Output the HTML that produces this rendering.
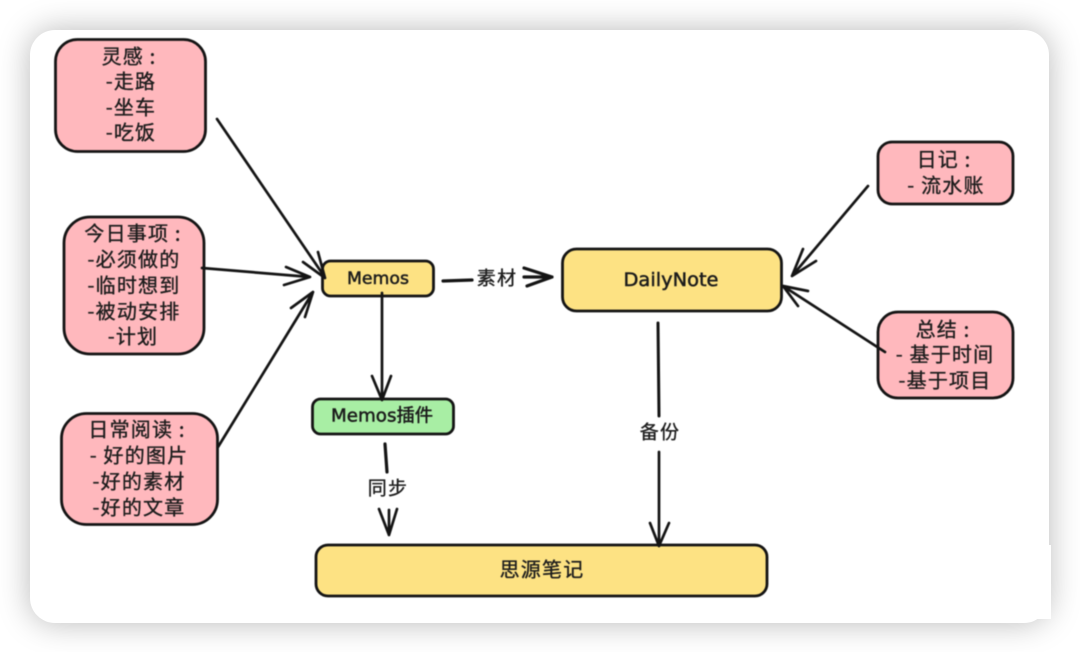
<!DOCTYPE html>
<html lang="zh">
<head>
<meta charset="utf-8">
<style>
html,body{margin:0;padding:0;background:#fff;width:1080px;height:652px;overflow:hidden}
#card{position:absolute;left:30px;top:30px;width:1019px;height:593px;background:#fff;border-radius:25px;box-shadow:0 0 32px rgba(0,0,0,.28)}
#fix{position:absolute;left:1030px;top:545px;width:21px;height:74px;background:#fff}
svg{position:absolute;left:0;top:0;filter:blur(.45px)}
text{font-family:"WenQuanYi Zen Hei","Noto Sans CJK SC",sans-serif;font-size:20px;fill:#1c1c1c;stroke:#1c1c1c;stroke-width:.35;text-anchor:middle;dominant-baseline:central;letter-spacing:1.2px}
text.l{font-family:"DejaVu Sans","WenQuanYi Zen Hei",sans-serif;letter-spacing:0;stroke-width:.5}
.b{stroke:#141414;stroke-width:2.8}
.a{fill:none;stroke:#141414;stroke-width:2.7;stroke-linecap:round;stroke-linejoin:round}
</style>
</head>
<body>
<div id="card"></div>
<div id="fix"></div>
<svg width="1080" height="652" viewBox="0 0 1080 652" xmlns="http://www.w3.org/2000/svg">
<g class="b" fill="#ffb8bd">
<rect x="55.5" y="39.5" width="150" height="112" rx="22"/>
<rect x="64" y="217" width="140" height="137" rx="26"/>
<rect x="61.5" y="413.5" width="156" height="111" rx="25"/>
<rect x="878" y="142" width="135" height="62" rx="14"/>
<rect x="878" y="312" width="135" height="86" rx="20"/>
</g>
<g class="b" fill="#fde283">
<rect x="322.5" y="261" width="111" height="35" rx="8"/>
<rect x="562.5" y="249" width="219" height="62" rx="14"/>
<rect x="316" y="545" width="451" height="51" rx="12"/>
</g>
<rect class="b" x="312.5" y="399" width="141" height="35" rx="8" fill="#a8eea4"/>

<g class="a">
<path d="M217 119L324 276M318 252L325 278L303 262"/>
<path d="M202 268L310 277M286 267L310 277L284 285"/>
<path d="M218 447L313 292M291 308L313 292L305 317"/>
<path d="M382 293L382 400M372 376L382 400L391 376"/>
<path d="M443 281L472 280" stroke-width="3.2"/>
<path d="M524 277L552 277M524 268L552 277L527 286" stroke-width="3.2"/>
<path d="M385 444L387 472" stroke-width="3.2"/>
<path d="M389 510L389 535M379 509L389 535L397 509"/>
<path d="M658 323L659 416" stroke-width="3"/>
<path d="M659 452L659 546M650 523L659 546L669 523"/>
<path d="M868 186L792 276M803 249L792 276L816 261"/>
<path d="M885 352L783 286M808 291L783 286L798 306"/>
</g>

<text x="129" y="55">灵感 :</text>
<text x="131" y="80">-走路</text>
<text x="131" y="106">-坐车</text>
<text x="131" y="131">-吃饭</text>

<text x="133" y="232">今日事项 :</text>
<text x="134" y="258">-必须做的</text>
<text x="134" y="284">-临时想到</text>
<text x="134" y="310">-被动安排</text>
<text x="133" y="335">-计划</text>

<text x="137" y="428">日常阅读 :</text>
<text x="139" y="454">- 好的图片</text>
<text x="139" y="480">-好的素材</text>
<text x="139" y="506">-好的文章</text>

<text x="944" y="158">日记 :</text>
<text x="946" y="184">- 流水账</text>

<text x="943" y="328">总结 :</text>
<text x="945" y="353">- 基于时间</text>
<text x="945" y="379">-基于项目</text>

<text class="l" x="378" y="279" textLength="62" lengthAdjust="spacingAndGlyphs" style="font-size:17px">Memos</text>
<text class="l" x="382" y="416" textLength="102" lengthAdjust="spacingAndGlyphs" style="font-size:18px">Memos插件</text>
<text class="l" x="671" y="280" textLength="95" lengthAdjust="spacingAndGlyphs" style="font-size:19px">DailyNote</text>
<text x="497" y="277" style="font-size:19px">素材</text>
<text x="388" y="487" style="font-size:19px">同步</text>
<text x="660" y="431" style="font-size:19px">备份</text>
<text x="542" y="568">思源笔记</text>
</svg>
</body>
</html>
